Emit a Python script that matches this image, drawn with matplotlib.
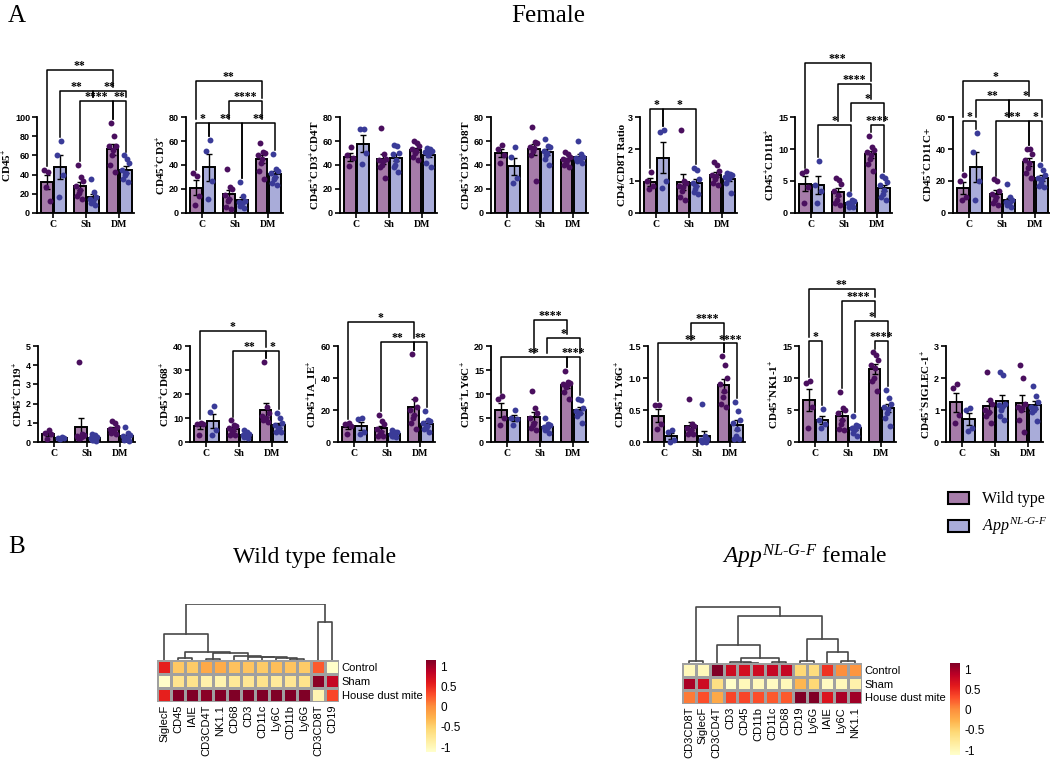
import numpy as np
import matplotlib
matplotlib.use('Agg')
import matplotlib.pyplot as plt
from matplotlib.patches import Patch

plt.rcParams['font.family'] = ['Liberation Serif', 'DejaVu Serif']
plt.rcParams['mathtext.fontset'] = 'custom'
plt.rcParams['mathtext.rm'] = 'Liberation Serif'
plt.rcParams['mathtext.it'] = 'Liberation Serif:italic'
plt.rcParams['mathtext.bf'] = 'Liberation Serif:bold'

groups = ['C', 'Sh', 'DM']

# individual animals, per group (C, Sh, DM); wild type / App NL-G-F
cd45_wt = [[43, 45, 13, 27], [50, 38, 33, 28, 24, 21, 18, 15], [94, 80, 70, 70, 66, 60, 50, 43]]
cd45_ko = [[75, 60, 40, 17], [35, 22, 17, 15, 13, 11, 10, 8], [60, 56, 52, 45, 42, 40, 35, 32]]
cd3_wt = [[31, 33, 14, 7], [37, 22, 20, 15, 12, 10, 5, 3], [58, 51, 50, 48, 45, 42, 35, 28]]
cd3_ko = [[61, 52, 27, 12], [26, 14, 10, 9, 8, 7, 6, 4], [49, 37, 35, 33, 30, 28, 25, 23]]
cd4t_wt = [[55, 48, 46, 39], [71, 49, 45, 44, 43, 40, 38, 29], [60, 58, 56, 53, 52, 50, 47, 44]]
cd4t_ko = [[70, 70, 50, 41], [57, 56, 50, 49, 44, 40, 38, 34], [54, 53, 52, 51, 50, 48, 42, 38]]
cd8t_wt = [[57, 53, 48, 42], [72, 59, 58, 55, 54, 52, 48, 27], [51, 49, 47, 45, 44, 42, 40, 38]]
cd8t_ko = [[55, 47, 29, 25], [62, 56, 55, 52, 50, 48, 45, 40], [60, 49, 47, 46, 45, 44, 43, 42]]
ratio_wt = [[1.28, 1.0, 0.85, 0.75], [2.6, 1.0, 0.95, 0.85, 0.8, 0.7, 0.5, 0.4],
            [1.58, 1.5, 1.3, 1.2, 1.15, 1.05, 0.95, 0.88]]
ratio_ko = [[2.6, 2.52, 1.0, 0.78], [1.4, 1.33, 1.05, 0.95, 0.85, 0.75, 0.65, 0.6],
            [1.25, 1.22, 1.18, 1.12, 1.1, 1.05, 0.95, 0.63]]
cd11b_wt = [[6.5, 6.3, 4.0, 1.6], [5.5, 5.2, 4.5, 3.5, 2.8, 2.0, 1.6, 1.3],
            [12.0, 10.3, 9.8, 9.5, 9.0, 8.5, 7.6, 6.6]]
cd11b_ko = [[8.1, 4.4, 3.5, 1.6], [2.9, 2.0, 1.8, 1.6, 1.4, 1.2, 1.0, 0.9],
            [5.8, 5.5, 4.8, 4.3, 3.6, 3.0, 2.5, 2.0]]
cd11c_wt = [[24, 20, 10, 8], [21, 20, 14, 12, 10, 8, 6, 5], [40, 40, 37, 33, 31, 28, 25, 22]]
cd11c_ko = [[50, 38, 20, 8], [18, 10, 8, 7, 6, 6, 5, 4], [30, 27, 24, 22, 21, 19, 17, 16]]
cd19_wt = [[0.6, 0.45, 0.4, 0.15], [4.15, 0.4, 0.35, 0.3, 0.25, 0.2, 0.2, 0.3],
           [1.1, 1.0, 0.8, 0.7, 0.6, 0.55, 0.45, 0.4]]
cd19_ko = [[0.25, 0.22, 0.2, 0.15], [0.4, 0.35, 0.25, 0.2, 0.15, 0.1, 0.1, 0.05],
           [0.8, 0.45, 0.35, 0.3, 0.2, 0.15, 0.1, 0.05]]
cd68_wt = [[8, 7.5, 7.5, 3], [9, 7, 6.5, 6, 5, 4.5, 3, 3], [33.5, 14.5, 12, 11, 10, 9.5, 9, 8.5]]
cd68_ko = [[14.8, 12.5, 5, 3], [5, 4, 3.5, 3, 2.5, 2.5, 2, 1.5], [12, 10, 8, 7, 6, 5, 4, 4]]
iaie_wt = [[12, 11.5, 10, 5], [17, 13, 11, 8, 6, 5, 4, 4], [55, 27, 22, 20, 17, 15, 12, 8]]
iaie_ko = [[15, 14.5, 6, 5], [7.5, 6.5, 6, 5, 4.5, 4, 3.5, 3], [19.5, 14, 13, 12, 10, 9, 8, 6.5]]
ly6c_wt = [[9.5, 9, 5, 3.5], [10.7, 7, 6, 5, 4, 3.5, 3, 2.5], [14.8, 12.5, 12.3, 12, 11.8, 11.5, 10.5, 9]]
ly6c_ko = [[6.7, 5, 4.8, 3.5], [5, 3.8, 3.5, 3.2, 3, 2.8, 2.5, 1.8], [9, 8.8, 7, 6.5, 6, 6, 5.5, 4]]
ly6g_wt = [[0.58, 0.58, 0.28, 0.2], [0.67, 0.28, 0.25, 0.22, 0.18, 0.15, 0.12, 0.13],
           [1.35, 1.2, 1.0, 0.9, 0.8, 0.7, 0.6, 0.55]]
ly6g_ko = [[0.18, 0.15, 0.03, 0.0], [0.6, 0.1, 0.05, 0.03, 0.02, 0.01, 0.0, 0.0],
           [0.62, 0.48, 0.35, 0.3, 0.2, 0.1, 0.05, 0.05]]
nk_wt = [[9.5, 9.2, 5.5, 2.2], [7.8, 5.3, 5.0, 4.5, 3.5, 2.8, 2.0, 1.9], [14, 13.6, 12.8, 12, 11.5, 10, 9.5, 8]]
nk_ko = [[5.2, 3.4, 2.8, 2.2], [4.1, 2.6, 2.5, 2.2, 2.0, 1.8, 1.4, 1.0], [8.2, 6.8, 6, 5.5, 5.2, 4.5, 3.8, 2.5]]
siglec_wt = [[1.8, 1.7, 0.85, 0.6], [2.2, 1.3, 1.2, 1.0, 0.95, 0.9, 0.8, 0.6],
             [2.4, 2.0, 1.2, 1.1, 1.05, 1.0, 0.7, 0.3]]
siglec_ko = [[1.05, 1.0, 0.45, 0.35], [2.2, 2.1, 1.2, 1.15, 1.1, 1.0, 0.8, 0.7],
             [1.75, 1.45, 1.25, 1.1, 1.05, 1.0, 0.95, 0.65]]

# significance: (bar a, bar b, label, height); bars 0..5 = C wt, C ko, Sh wt, Sh ko, DM wt, DM ko
cd45_sig = [(0, 4, '**', 149), (1, 3, '**', 127), (3, 5, '**', 127), (2, 4, '****', 117), (4, 5, '**', 117)]
cd3_sig = [(0, 4, '**', 110), (2, 4, '****', 93), (0, 1, '*', 75), (1, 3, '**', 75), (3, 5, '**', 75)]
ratio_sig = [(0, 1, '*', 3.26), (1, 3, '*', 3.26)]
cd11b_sig = [(0, 4, '***', 23.5), (2, 4, '****', 20.1), (3, 5, '*', 17.2), (1, 3, '*', 13.7), (4, 5, '****', 13.7)]
cd11c_sig = [(0, 4, '*', 82.5), (1, 3, '**', 70.5), (3, 5, '*', 70.5), (0, 1, '*', 57.8),
             (2, 4, '***', 57.8), (4, 5, '*', 57.8)]
cd68_sig = [(0, 4, '*', 46.4), (2, 4, '**', 37.9), (4, 5, '*', 37.9)]
iaie_sig = [(0, 4, '*', 74.9), (2, 4, '**', 62.5), (4, 5, '**', 62.5)]
ly6c_sig = [(2, 4, '****', 25.5), (3, 5, '*', 21.6), (0, 4, '**', 17.7), (4, 5, '****', 17.7)]
ly6g_sig = [(2, 4, '****', 1.86), (0, 4, '**', 1.54), (4, 5, '****', 1.54)]
nk_sig = [(0, 4, '**', 23.9), (2, 4, '****', 22.0), (3, 5, '*', 18.9), (0, 1, '*', 15.8), (4, 5, '****', 15.8)]

# heatmaps (scaled values), rows Control / Sham / House dust mite
heat_rows = ['Control', 'Sham', 'House dust mite']
wt_cols = ['SiglecF', 'CD45', 'IAIE', 'CD3CD4T', 'NK1.1', 'CD68', 'CD3', 'CD11c', 'Ly6C', 'CD11b', 'Ly6G',
           'CD3CD8T', 'CD19']
wt_heat = [[0.55, -0.42, -0.45, -0.2, -0.22, -0.38, -0.4, -0.45, -0.35, -0.4, -0.45, 0.25, -1.1],
           [-1.1, -0.72, -0.7, -0.9, -0.92, -0.78, -0.75, -0.7, -0.8, -0.75, -0.7, 1.1, 0.8],
           [0.55, 1.14, 1.15, 1.1, 1.14, 1.15, 1.15, 1.15, 1.15, 1.15, 1.15, -0.95, 0.35]]
wt_merges = [('CD45', 'IAIE', 1.7), ('CD3CD4T', 'NK1.1', 0.7), ('CD11b', 'Ly6G', 0.8), ('Ly6C', 'n2', 2.0),
             ('CD11c', 'n3', 3.0), ('CD3', 'n4', 3.5), ('CD68', 'n5', 4.0), ('n1', 'n6', 6.7),
             ('n0', 'n7', 8.5), ('SiglecF', 'n8', 26), ('CD3CD8T', 'CD19', 38.3), ('n9', 'n10', 56)]
ko_cols = ['CD3CD8T', 'SiglecF', 'CD3CD4T', 'CD3', 'CD45', 'CD11b', 'CD11c', 'CD68', 'CD19', 'Ly6G', 'IAIE',
           'Ly6C', 'NK1.1']
ko_heat = [[-1.0, -1.0, 1.15, 0.75, 0.7, 0.75, 0.8, 0.8, -0.55, -0.6, 0.45, 0.0, -0.05],
           [0.95, 0.75, -0.65, -1.1, -1.0, -1.0, -1.05, -1.0, -0.3, -0.55, -1.05, -1.0, -0.9],
           [0.1, 0.3, -0.2, 0.35, 0.35, 0.3, 0.25, 0.25, 1.15, 1.15, 0.65, 0.95, 1.0]]
ko_merges = [('CD3CD8T', 'SiglecF', 1.7), ('CD45', 'CD11b', 0.3), ('CD3', 'n1', 0.6), ('CD11c', 'CD68', 0.7),
             ('n2', 'n3', 5.0), ('CD3CD4T', 'n4', 18), ('CD19', 'Ly6G', 2.3), ('Ly6C', 'NK1.1', 2.3),
             ('IAIE', 'n7', 10.7), ('n6', 'n8', 24), ('n5', 'n9', 47), ('n0', 'n10', 56)]

W, H = 1050, 761
wt_fill, ko_fill = '#a67ca9', '#a9acd9'
wt_dot, ko_dot = '#4a0f5e', '#3a3b98'
app = '$App^{NL\u2010G\u2010F}$'

fig = plt.figure(figsize=(W / 100, H / 100), dpi=100)


def rect(left, top, w, h):
    return [left / W, 1 - (top + h) / H, w / W, h / H]


def sup(s):
    return s.replace('+', r'$^{\mathbf{+}}$')


panels = [
    (cd45_wt, cd45_ko, sup('CD45+'), [0, 20, 40, 60, 80, 100], cd45_sig, (37, 117)),
    (cd3_wt, cd3_ko, sup('CD45+CD3+'), [0, 20, 40, 60, 80], cd3_sig, (186, 117)),
    (cd4t_wt, cd4t_ko, sup('CD45+CD3+') + 'CD4T', [0, 20, 40, 60, 80], [], (340, 117)),
    (cd8t_wt, cd8t_ko, sup('CD45+CD3+') + 'CD8T', [0, 20, 40, 60, 80], [], (491, 117)),
    (ratio_wt, ratio_ko, 'CD4/CD8T Ratio', [0, 1, 2, 3], ratio_sig, (640, 117)),
    (cd11b_wt, cd11b_ko, sup('CD45+CD11B+'), [0, 5, 10, 15], cd11b_sig, (795, 117)),
    (cd11c_wt, cd11c_ko, sup('CD45+') + 'CD11C+', [0, 20, 40, 60], cd11c_sig, (953, 117)),
    (cd19_wt, cd19_ko, sup('CD45+CD19+'), [0, 1, 2, 3, 4, 5], [], (38, 346)),
    (cd68_wt, cd68_ko, sup('CD45+CD68+'), [0, 10, 20, 30, 40], cd68_sig, (190, 346)),
    (iaie_wt, iaie_ko, sup('CD45+') + 'IA_IE' + sup('+'), [0, 20, 40, 60], iaie_sig, (338, 346)),
    (ly6c_wt, ly6c_ko, sup('CD45+LY6C+'), [0, 5, 10, 15, 20], ly6c_sig, (491, 346)),
    (ly6g_wt, ly6g_ko, sup('CD45+LY6G+'), [0, 0.5, 1.0, 1.5], ly6g_sig, (648, 346)),
    (nk_wt, nk_ko, sup('CD45+') + 'NK1-1' + sup('+'), [0, 5, 10, 15], nk_sig, (799, 346)),
    (siglec_wt, siglec_ko, sup('CD45+') + 'SIGLEC-1' + sup('+'), [0, 1, 2, 3], [], (946, 346)),
]

for wt, ko, ylab, yt, sig, (px, py) in panels:
    ax = fig.add_axes(rect(px, py, 97, 96))
    top = yt[-1]
    xs, tops = [], []
    for g in range(3):
        for off, vals, fill, dot in ((-0.2, wt[g], wt_fill, wt_dot), (0.2, ko[g], ko_fill, ko_dot)):
            v = np.array(vals, dtype=float)
            x = g + off
            m = v.mean()
            se = v.std(ddof=1) / np.sqrt(len(v))
            ax.bar(x, m, width=0.35, color=fill, edgecolor='black', linewidth=1.4, zorder=1)
            ax.errorbar(x, m, yerr=se, fmt='none', ecolor='black', elinewidth=1, capsize=2.2, capthick=1, zorder=2)
            n = len(v)
            jit = np.linspace(-0.1, 0.1, n)[np.argsort(np.sin(np.arange(n) * 2.3))]
            ax.scatter(x + jit, v, s=18, color=dot, zorder=3, clip_on=False, linewidths=0)
            xs.append(x)
            tops.append(max(v.max(), m + se))
    ax.set_xlim(-0.5, 2.45)
    ax.set_ylim(0, top)
    ax.set_yticks(yt)
    if top == 1.5:
        ax.set_yticklabels(['%.1f' % t for t in yt])
    ax.set_xticks(range(3))
    ax.set_xticklabels(groups, fontweight='bold', fontsize=7)
    for lab in ax.get_yticklabels():
        lab.set_family('Liberation Sans')
        lab.set_fontweight('bold')
        lab.set_fontsize(6.5)
    ax.tick_params(width=1.2, length=3.5, pad=1.5)
    for s in ('top', 'right'):
        ax.spines[s].set_visible(False)
    for s in ('left', 'bottom'):
        ax.spines[s].set_linewidth(1.3)
    ax.set_ylabel(ylab, fontsize=8, fontweight='bold', labelpad=1)

    # brackets
    gap = 0.04 * top
    done = []
    for a, b, lab, y in sorted(sig, key=lambda s: s[3]):
        legs = []
        for i in (a, b):
            fl = tops[i]
            for a2, b2, _, y2 in done:
                if a2 <= i <= b2 and y2 < y:
                    fl = max(fl, y2)
            legs.append(min(fl + gap, y - gap * 0.5))
        ax.plot([xs[a], xs[a], xs[b], xs[b]], [legs[0], y, y, legs[1]], color='black', lw=1.1,
                clip_on=False, zorder=4)
        ax.annotate(lab, xy=((xs[a] + xs[b]) / 2, y), xytext=(0, -1.5), textcoords='offset points',
                    ha='center', va='bottom', fontsize=8.5, fontweight='bold', annotation_clip=False)
        done.append((a, b, lab, y))

# legend
fig.legend(handles=[Patch(facecolor=wt_fill, edgecolor='black', linewidth=1.5, label='Wild type'),
                    Patch(facecolor=ko_fill, edgecolor='black', linewidth=1.5, label=app)],
           loc='upper left', bbox_to_anchor=(934 / W, 1 - 477 / H), frameon=False,
           prop={'family': 'Liberation Serif', 'size': 11.5}, handlelength=1.3, handleheight=0.8,
           labelspacing=0.55, handletextpad=0.8)

fig.text(8 / W, 1 - 16 / H, 'A', fontsize=18, va='center')
fig.text(548 / W, 1 - 16 / H, 'Female', fontsize=18, va='center', ha='center')
fig.text(8 / W, 1 - 547 / H, 'B', fontsize=18, va='center')
fig.text(315 / W, 1 - 557 / H, 'Wild type female', fontsize=17, va='center', ha='center')
fig.text(805 / W, 1 - 557 / H, app + ' female', fontsize=17, va='center', ha='center')


def draw_heat(hrect, drect, crect, vals, cols, merges):
    axh = fig.add_axes(rect(*hrect))
    mesh = axh.pcolormesh(np.array(vals), cmap='YlOrRd', vmin=-1.12, vmax=1.15,
                          edgecolors='#a0a0a0', linewidth=0.8)
    axh.set_xlim(0, len(cols))
    axh.set_ylim(3, 0)
    axh.set_xticks(np.arange(len(cols)) + 0.5)
    axh.set_xticklabels(cols, rotation=90, family='Liberation Sans', fontsize=8)
    axh.set_yticks(np.arange(3) + 0.5)
    axh.set_yticklabels(heat_rows, family='Liberation Sans', fontsize=8)
    axh.yaxis.tick_right()
    axh.tick_params(length=0, pad=2)
    for s in axh.spines.values():
        s.set_visible(False)

    axd = fig.add_axes(rect(*drect))
    pos = {c: i + 0.5 for i, c in enumerate(cols)}
    hgt = {c: 0.0 for c in cols}
    for k, (a, b, h) in enumerate(merges):
        axd.plot([pos[a], pos[a], pos[b], pos[b]], [hgt[a], h, h, hgt[b]], color='#484848', lw=1.2)
        pos['n%d' % k] = (pos[a] + pos[b]) / 2
        hgt['n%d' % k] = h
    axd.set_xlim(0, len(cols))
    axd.set_ylim(0, 56.5)
    axd.axis('off')

    axc = fig.add_axes(rect(*crect))
    cb = fig.colorbar(mesh, cax=axc, ticks=[-1, -0.5, 0, 0.5, 1])
    cb.outline.set_visible(False)
    axc.set_yticklabels(['-1', '-0.5', '0', '0.5', '1'], family='Liberation Sans', fontsize=8.5)
    axc.tick_params(length=0, pad=3)


draw_heat((157, 660, 182, 42), (157, 604, 182, 56), (426, 660, 10, 92), wt_heat, wt_cols, wt_merges)
draw_heat((682, 663, 180, 41), (682, 606, 180, 57), (950, 663, 10, 92), ko_heat, ko_cols, ko_merges)

fig.savefig('out.png', dpi=100)
